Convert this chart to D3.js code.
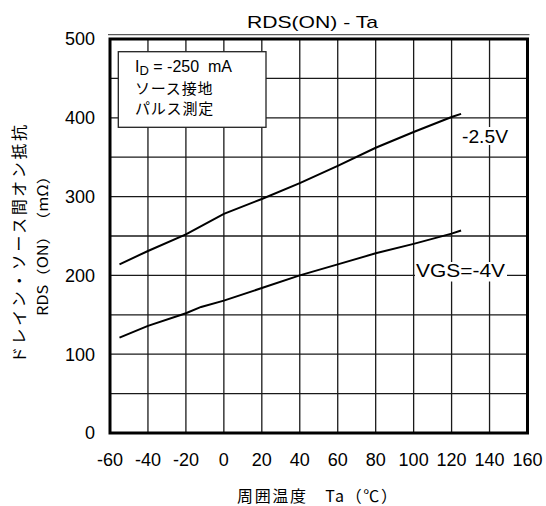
<!DOCTYPE html>
<html><head><meta charset="utf-8">
<script src="https://cdn.jsdelivr.net/npm/d3@7"></script>
<style>body{margin:0;background:#fff}svg{display:block}</style>
</head><body>
<script>
// ---- data ----
const xTicks = [-60,-40,-20,0,20,40,60,80,100,120,140,160];
const yTicks = [0,100,200,300,400,500];
const yGrid = [0,50,100,150,200,250,300,350,400,450,500];
const temp25 = [-55,-40,-20,-10,0,20,40,60,80,100,120,125];
const rds25  = [214,231,252,265,278,297,317,339,362,382,401,405];
const temp4  = [-55,-40,-20,-12,0,20,40,60,80,100,120,125];
const rds4   = [121,136,152,160,168,184,200,214,228,240,253,257];
const seriesLabels = ["-2.5V","VGS=-4V"];
const title = "RDS(ON) - Ta";
const xTitle = "周囲温度　Ta（℃）";
const yTitle1 = "ドレイン・ソース間オン抵抗";
const yTitle2 = "RDS（ON）　（mΩ）";
const noteLines = ["ソース接地","パルス測定"];

const W=546,H=506;
const L=110,R=527.5,T=39,B=433;
const svg=d3.select("body").append("svg").attr("width",W).attr("height",H);
const x=d3.scaleLinear().domain([-60,160]).range([L,R]);
const y=d3.scaleLinear().domain([0,500]).range([B,T]);
const font="'Liberation Sans', Arial, sans-serif";
const jp="'Noto Sans CJK JP', sans-serif";

// grid
const g=svg.append("g");
g.selectAll(".vx").data(xTicks).join("line")
 .attr("x1",d=>x(d)).attr("x2",d=>x(d)).attr("y1",T).attr("y2",B)
 .attr("stroke","#1a1a1a").attr("stroke-width",1.3);
g.selectAll(".hy").data(yGrid).join("line")
 .attr("x1",L).attr("x2",R).attr("y1",d=>y(d)).attr("y2",d=>y(d))
 .attr("stroke","#1a1a1a").attr("stroke-width",1.3);
// thin line above top
svg.append("line").attr("x1",L-2).attr("x2",R+2).attr("y1",T-4.3).attr("y2",T-4.3)
 .attr("stroke","#333").attr("stroke-width",1);
// frame
svg.append("rect").attr("x",L).attr("y",T).attr("width",R-L).attr("height",B-T)
 .attr("fill","none").attr("stroke","#000").attr("stroke-width",3);

// data lines
const line=d3.line().x(d=>x(d[0])).y(d=>y(d[1]));
svg.append("path").datum(d3.zip(temp25,rds25)).attr("d",line)
 .attr("fill","none").attr("stroke","#000").attr("stroke-width",2);
svg.append("path").datum(d3.zip(temp4,rds4)).attr("d",line)
 .attr("fill","none").attr("stroke","#000").attr("stroke-width",2);

// series labels with white backing
svg.append("rect").attr("x",460).attr("y",127).attr("width",50).attr("height",18).attr("fill","#fff");
svg.append("text").attr("x",462).attr("y",142.7).attr("font-family",font).attr("font-size",18)
 .attr("textLength",46).attr("lengthAdjust","spacingAndGlyphs").text(seriesLabels[0]);
svg.append("rect").attr("x",415).attr("y",262).attr("width",92).attr("height",19.5).attr("fill","#fff");
svg.append("text").attr("x",416).attr("y",276.7).attr("font-family",font).attr("font-size",18)
 .attr("textLength",89).attr("lengthAdjust","spacingAndGlyphs").text(seriesLabels[1]);

// note box
svg.append("rect").attr("x",118.3).attr("y",51.7).attr("width",147.7).attr("height",75.6)
 .attr("fill","#fff").attr("stroke","#222").attr("stroke-width",1.3);
const t1=svg.append("text").attr("x",135).attr("y",71.7).attr("font-family",font).attr("font-size",16);
t1.append("tspan").text("I");
t1.append("tspan").attr("font-size",13).attr("dy",3.5).text("D");
t1.append("tspan").attr("dy",-3.5).text(" = -250\u00a0\u00a0mA");
noteLines.forEach((s,i)=>svg.append("text").attr("x",135).attr("y",94+i*20)
 .attr("font-family",jp).attr("font-size",15).attr("letter-spacing",0.8).text(s));

// title
svg.append("text").attr("x",312.5).attr("y",27.9).attr("text-anchor","middle")
 .attr("font-family",font).attr("font-size",17).attr("textLength",131)
 .attr("lengthAdjust","spacingAndGlyphs").text(title);

// tick labels
svg.selectAll(".xl").data(xTicks).join("text").attr("x",d=>x(d)).attr("y",465.7)
 .attr("text-anchor","middle").attr("font-family",font).attr("font-size",18).text(d=>d);
svg.selectAll(".yl").data(yTicks).join("text").attr("x",95).attr("y",d=>y(d)).attr("dy","0.35em")
 .attr("text-anchor","end").attr("font-family",font).attr("font-size",18).text(d=>d);

// axis titles
svg.append("text").attr("x",317).attr("y",501.7).attr("text-anchor","middle")
 .attr("font-family",jp).attr("font-size",16).attr("textLength",160)
 .attr("lengthAdjust","spacing").text(xTitle);
svg.append("text").attr("transform","translate(24.5,244) rotate(-90)").attr("text-anchor","middle")
 .attr("font-family",jp).attr("font-size",16).attr("textLength",238)
 .attr("lengthAdjust","spacing").text(yTitle1);
svg.append("text").attr("transform","translate(48,242) rotate(-90)").attr("text-anchor","middle")
 .attr("font-family",jp).attr("font-size",14).attr("textLength",148)
 .attr("lengthAdjust","spacingAndGlyphs").text(yTitle2);
</script>
</body></html>
